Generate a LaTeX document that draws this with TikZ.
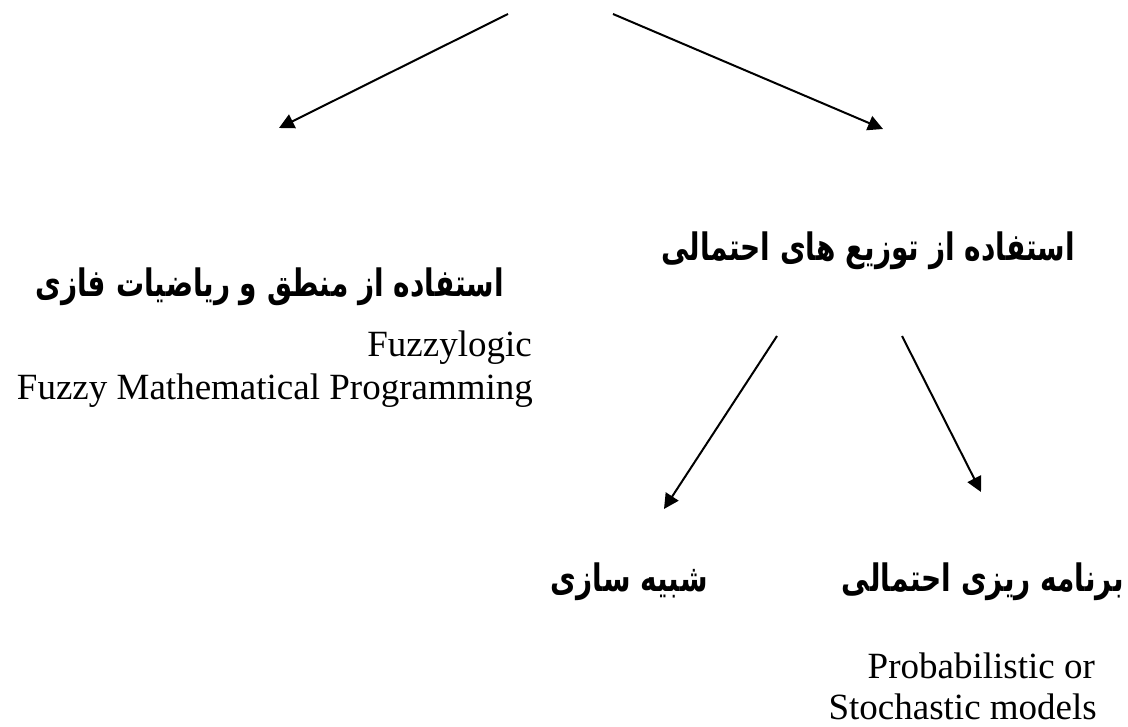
\documentclass[tikz,border=0pt]{standalone}
\usepackage{fontspec}
\usepackage{graphicx}
\setmainfont{Liberation Serif}
\newfontfamily\fa[Script=Arabic]{DejaVu Sans}
\TeXXeTstate=1
\usetikzlibrary{arrows.meta}
\newcommand{\fatxt}[1]{\scalebox{1}[1.35]{\beginR #1\endR}}
\begin{document}
\begin{tikzpicture}[x=1pt,y=-1pt,
  conn/.style={line width=2pt, -{Triangle[length=15pt,width=15pt]}},
  fatext/.style={font=\fa\bfseries\fontsize{28}{34}\selectfont, inner sep=0pt, anchor=base east},
  entext/.style={font=\fontsize{37}{43}\selectfont, inner sep=0pt, anchor=base east}]
\useasboundingbox[fill=white] (0,0) rectangle (1128,727);
% texts
\node[fatext] (prob) at (1075,261) {\fatxt{استفاده از توزیع های احتمالی}};
\node[fatext] (fuzzy) at (504,297) {\fatxt{استفاده از منطق و ریاضیات فازی}};
\node[entext] (fl) at (532,357) {Fuzzylogic};
\node[entext] (fmp) at (533,400) {Fuzzy Mathematical Programming};
\node[fatext] (sim) at (708,591) {\fatxt{شبیه سازی}};
\node[fatext] (sp) at (1124,591) {\fatxt{برنامه ریزی احتمالی}};
\node[entext] (po) at (1095,678) {Probabilistic or};
\node[entext] (sm) at (1097,719) {Stochastic models};
% connector ends
\coordinate (a1s) at (508,14);
\coordinate (a1e) at (279,128);
\coordinate (a2s) at (613,14);
\coordinate (a2e) at (883,129);
\coordinate (a3s) at (777,336);
\coordinate (a3e) at (664,509);
\coordinate (a4s) at (902,336);
\coordinate (a4e) at (981,492);
\draw[conn] (a1s) -- (a1e);
\draw[conn] (a2s) -- (a2e);
\draw[conn] (a3s) -- (a3e);
\draw[conn] (a4s) -- (a4e);
\end{tikzpicture}
\end{document}
